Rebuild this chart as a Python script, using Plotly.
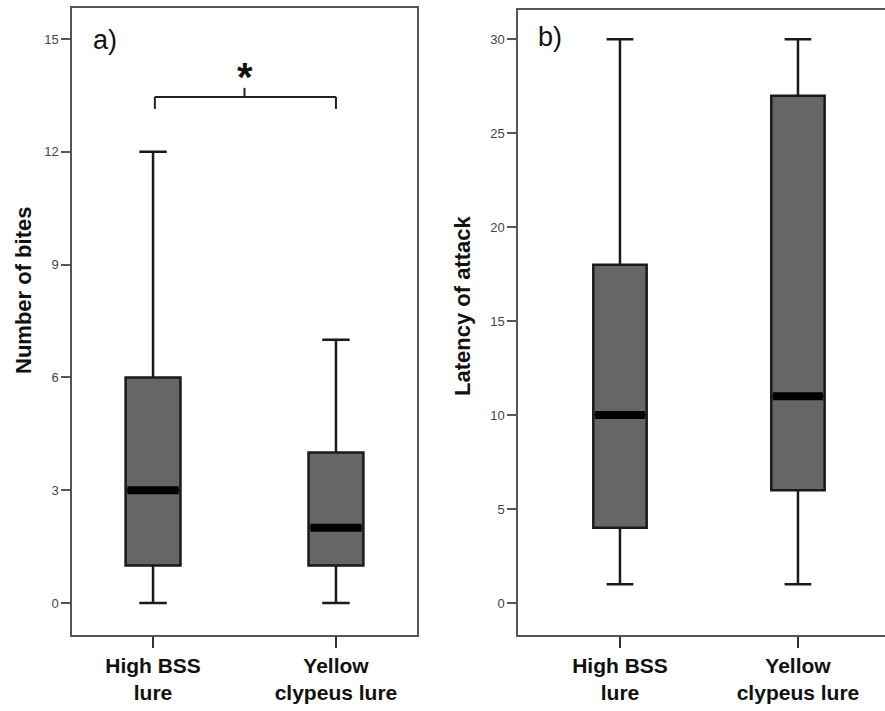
import plotly.graph_objects as go

# ---- data ----
categories = ["High BSS<br>lure", "Yellow<br>clypeus lure"]
positions = [0, 1]

bites_lower = [0, 0]
bites_q1 = [1, 1]
bites_median = [3, 2]
bites_q3 = [6, 4]
bites_upper = [12, 7]

latency_lower = [1, 1]
latency_q1 = [4, 6]
latency_median = [10, 11]
latency_q3 = [18, 27]
latency_upper = [30, 30]

a_ticks = [0, 3, 6, 9, 12, 15]
b_ticks = [0, 5, 10, 15, 20, 25, 30]

# ---- geometry helpers ----
W, H = 885, 711
MT, MB = 8, 76
PH = H - MT - MB


def px(x):
    return x / W


def py(y):
    return (H - MB - y) / PH


BOX_W = 0.30
FILL = "#666666"
EDGE = "#1a1a1a"

fig = go.Figure()


def add_panel(lower, q1, med, q3, upper, xa, ya):
    for i, p in enumerate(positions):
        fig.add_trace(go.Box(
            x=[p], lowerfence=[lower[i]], q1=[q1[i]], median=[med[i]],
            q3=[q3[i]], upperfence=[upper[i]], width=BOX_W, whiskerwidth=0.5,
            fillcolor=FILL, line=dict(color=EDGE, width=2.5), boxpoints=False,
            showlegend=False, hoverinfo="skip", xaxis=xa, yaxis=ya))
        fig.add_trace(go.Scatter(
            x=[p - BOX_W / 2 + 0.01, p + BOX_W / 2 - 0.01], y=[med[i], med[i]],
            mode="lines", line=dict(color="black", width=8),
            showlegend=False, hoverinfo="skip", xaxis=xa, yaxis=ya))


add_panel(bites_lower, bites_q1, bites_median, bites_q3, bites_upper, "x", "y")
add_panel(latency_lower, latency_q1, latency_median, latency_q3, latency_upper, "x2", "y2")

tickfont = dict(family="Liberation Sans, Arial", size=13, color="#444")
xtickfont = dict(family="Liberation Sans, Arial", size=21, color="#111")
axline = dict(showline=True, linecolor="#555", linewidth=1.5, showgrid=False, zeroline=False)

fig.update_layout(
    width=W, height=H,
    margin=dict(l=0, r=0, t=MT, b=MB),
    paper_bgcolor="white", plot_bgcolor="white",
    xaxis=dict(domain=[px(72), px(417)], range=[-0.443, 1.443], tickmode="array",
               tickvals=positions, ticktext=["<b>%s</b>" % c for c in categories],
               ticks="outside", ticklen=11, tickwidth=2, tickcolor="#333",
               tickfont=xtickfont, mirror=True, anchor="y", **axline),
    yaxis=dict(domain=[0, 1], range=[-0.851, 15.824], tickmode="array", tickvals=a_ticks,
               ticks="outside", ticklen=9, tickwidth=1.5, tickcolor="#555",
               tickfont=tickfont, mirror=True, anchor="x", **axline),
    xaxis2=dict(domain=[px(518), 1], range=[-0.573, 1.489], tickmode="array",
                tickvals=positions, ticktext=["<b>%s</b>" % c for c in categories],
                ticks="outside", ticklen=11, tickwidth=2, tickcolor="#333",
                tickfont=xtickfont, mirror=True, anchor="y2", **axline),
    yaxis2=dict(domain=[0, 1 - 2 / PH], range=[-1.703, 31.56], tickmode="array",
                tickvals=b_ticks, ticks="outside", ticklen=9, tickwidth=1.5,
                tickcolor="#555", tickfont=tickfont, mirror=False, anchor="x2", **axline),
)

ann_font = dict(family="Liberation Sans, Arial", color="#111")
common = dict(xref="paper", yref="paper", showarrow=False, xanchor="center", yanchor="middle")
fig.add_annotation(text="<b>Number of bites</b>", x=px(24), y=py(291),
                   textangle=-90, font=dict(size=22, **ann_font), **common)
fig.add_annotation(text="<b>Latency of attack</b>", x=px(462), y=py(306),
                   textangle=-90, font=dict(size=22, **ann_font), **common)
fig.add_annotation(text="a)", x=px(105), y=py(40), font=dict(size=27, **ann_font), **common)
fig.add_annotation(text="b)", x=px(550), y=py(37), font=dict(size=27, **ann_font), **common)
fig.add_annotation(text="<b>*</b>", x=0.5, y=py(77), xref="x", yref="paper",
                   xanchor="center", yanchor="middle", showarrow=False,
                   font=dict(size=40, **ann_font))

# significance bracket
br_y, br_leg, br_top = 13.46, 13.14, 13.7
bl = dict(color="#222", width=2)
fig.add_shape(type="line", xref="x", yref="y", x0=0.01, x1=1.0, y0=br_y, y1=br_y, line=bl)
fig.add_shape(type="line", xref="x", yref="y", x0=0.01, x1=0.01, y0=br_y, y1=br_leg, line=bl)
fig.add_shape(type="line", xref="x", yref="y", x0=1.0, x1=1.0, y0=br_y, y1=br_leg, line=bl)
fig.add_shape(type="line", xref="x", yref="y", x0=0.5, x1=0.5, y0=br_y, y1=br_top, line=bl)

fig.write_html("out.html")
